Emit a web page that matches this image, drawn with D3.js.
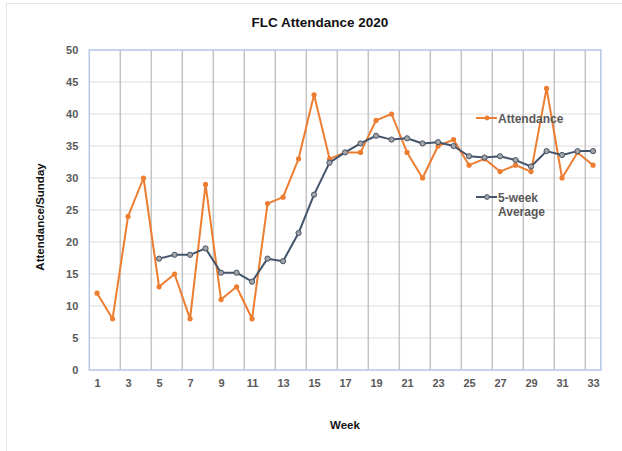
<!DOCTYPE html>
<html><head><meta charset="utf-8">
<script src="https://cdn.jsdelivr.net/npm/d3@7"></script>
<style>body{margin:0;background:#fff}svg{display:block;font-family:"Liberation Sans",Arial,sans-serif}</style>
</head><body><svg id="c" width="622" height="451"></svg>
<script>
const weeks = d3.range(1, 34);
const attendance = [12,8,24,30,13,15,8,29,11,13,8,26,27,33,43,33,34,34,39,40,34,30,35,36,32,33,31,32,31,44,30,34,32];
const avgWeeks = d3.range(5, 34);
const average5 = [17.4,18,18,19,15.2,15.2,13.8,17.4,17,21.4,27.4,32.4,34,35.4,36.6,36,36.2,35.4,35.6,35,33.4,33.2,33.4,32.8,31.8,34.2,33.6,34.2,34.2];
const yTicks = [0,5,10,15,20,25,30,35,40,45,50];
const xTickLabels = d3.range(1, 34, 2);
const gridWeeks = d3.range(2.5, 33, 2);

const svg = d3.select("#c");
const L = 89.3, R = 600.8, T = 50, B = 370;
const x = d3.scaleLinear().domain([0.5, 33.5]).range([L, R]);
const y = d3.scaleLinear().domain([0, 50]).range([B, T]);

// outer frame
svg.append("rect").attr("x",6.5).attr("y",3.5).attr("width",640).attr("height",460)
  .attr("fill","none").attr("stroke","#e6e6e6").attr("stroke-width",1);

// horizontal gridlines
svg.append("g").selectAll("line").data(yTicks.slice(1, -1)).join("line")
  .attr("x1",L).attr("x2",R).attr("y1",d=>y(d)).attr("y2",d=>y(d))
  .attr("stroke","#e8e8e8").attr("stroke-width",1.5);
// vertical gridlines
svg.append("g").selectAll("line").data(gridWeeks).join("line")
  .attr("x1",d=>x(d)).attr("x2",d=>x(d)).attr("y1",T).attr("y2",B)
  .attr("stroke","#c4c4c4").attr("stroke-width",1.5);
// plot border
svg.append("rect").attr("x",L).attr("y",T).attr("width",R-L).attr("height",B-T)
  .attr("fill","none").attr("stroke","#b4c7e7").attr("stroke-width",1.5);

// y axis
const yAxis = d3.axisLeft(y).tickValues(yTicks).tickSize(0).tickPadding(11);
const gy = svg.append("g").attr("transform",`translate(${L},0)`).call(yAxis);
gy.select(".domain").remove();
gy.selectAll("text").attr("font-size",11).attr("font-weight","bold").attr("fill","#595959")
  .attr("font-family","Liberation Sans, Arial, sans-serif");

// x axis
const xAxis = d3.axisBottom(x).tickValues(xTickLabels).tickSize(0).tickPadding(9).tickFormat(d3.format("d"));
const gx = svg.append("g").attr("transform",`translate(0,${B})`).call(xAxis);
gx.select(".domain").remove();
gx.selectAll("text").attr("font-size",11).attr("font-weight","bold").attr("fill","#595959")
  .attr("font-family","Liberation Sans, Arial, sans-serif");

// lines
const orange = "#ed7d31", slate = "#44546a";
const lineA = d3.line().x((d,i)=>x(weeks[i])).y(d=>y(d));
svg.append("path").attr("d", lineA(attendance)).attr("fill","none")
  .attr("stroke",orange).attr("stroke-width",2).attr("stroke-linejoin","round");
svg.append("g").selectAll("circle").data(attendance).join("circle")
  .attr("cx",(d,i)=>x(weeks[i])).attr("cy",d=>y(d)).attr("r",2.6).attr("fill",orange);

const lineB = d3.line().x((d,i)=>x(avgWeeks[i])).y(d=>y(d));
svg.append("path").attr("d", lineB(average5)).attr("fill","none")
  .attr("stroke",slate).attr("stroke-width",2).attr("stroke-linejoin","round");
svg.append("g").selectAll("circle").data(average5).join("circle")
  .attr("cx",(d,i)=>x(avgWeeks[i])).attr("cy",d=>y(d)).attr("r",2.6)
  .attr("fill","#a5a5a5").attr("stroke",slate).attr("stroke-width",1);

// legend
const lg = svg.append("g");
lg.append("line").attr("x1",476).attr("x2",497).attr("y1",118).attr("y2",118).attr("stroke",orange).attr("stroke-width",2);
lg.append("circle").attr("cx",487).attr("cy",118).attr("r",2.4).attr("fill",orange);
lg.append("text").attr("x",498).attr("y",122.5).text("Attendance")
  .attr("font-size",12).attr("font-weight","bold").attr("fill","#595959");
lg.append("line").attr("x1",476).attr("x2",497).attr("y1",197).attr("y2",197).attr("stroke",slate).attr("stroke-width",2);
lg.append("circle").attr("cx",487).attr("cy",197).attr("r",2.4).attr("fill","#a5a5a5").attr("stroke",slate).attr("stroke-width",1);
lg.append("text").attr("x",498).attr("y",201.5).text("5-week")
  .attr("font-size",12).attr("font-weight","bold").attr("fill","#595959");
lg.append("text").attr("x",498).attr("y",216).text("Average")
  .attr("font-size",12).attr("font-weight","bold").attr("fill","#595959");

// title & axis titles
svg.append("text").attr("x",320).attr("y",27).attr("text-anchor","middle")
  .attr("font-size",13.5).attr("font-weight","bold").attr("fill","#111").text("FLC Attendance 2020");
svg.append("text").attr("x",345).attr("y",429).attr("text-anchor","middle")
  .attr("font-size",11.5).attr("font-weight","bold").attr("fill","#111").text("Week");
svg.append("text").attr("transform","translate(44,217) rotate(-90)").attr("text-anchor","middle")
  .attr("font-size",11.5).attr("font-weight","bold").attr("fill","#111").text("Attendance/Sunday");
</script></body></html>
